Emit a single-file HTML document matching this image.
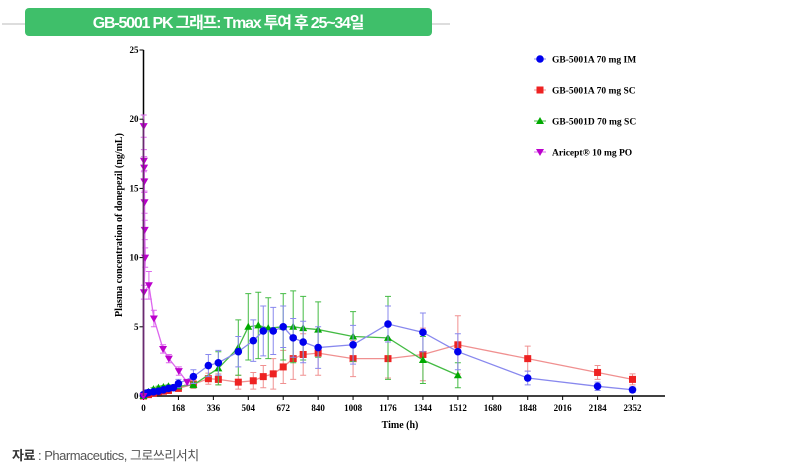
<!DOCTYPE html>
<html><head><meta charset="utf-8"><style>
html,body{margin:0;padding:0;background:#fff;width:800px;height:473px;overflow:hidden}
svg{display:block}
</style></head><body>
<svg id="s" width="800" height="473" xmlns="http://www.w3.org/2000/svg" font-family="Liberation Serif, serif">
<line x1="2" y1="24" x2="450" y2="24" stroke="#bbb" stroke-width="1"/>
<rect x="25" y="8" width="407" height="28" rx="4" fill="#3fbf6a"/>
<text x="228" y="28" text-anchor="middle" fill="#fff" font-family="Liberation Sans, Noto Sans CJK KR, sans-serif" font-size="16" font-weight="bold" letter-spacing="-1.2">GB-5001 PK 그래프: Tmax 투여 후 25~34일</text>
<text x="12" y="460" fill="#555" font-family="Liberation Sans, Noto Sans CJK KR, sans-serif" font-size="13" letter-spacing="-0.5"><tspan font-weight="bold" fill="#333">자료</tspan> : Pharmaceutics, 그로쓰리서치</text>
<g id="ax" font-weight="bold" font-size="9" fill="#000"></g>
<g id="pl"></g>
</svg>
<script>
var NS="http://www.w3.org/2000/svg";
function el(p,t,a,txt){var e=document.createElementNS(NS,t);for(var k in a)e.setAttribute(k,a[k]);if(txt!=null)e.textContent=txt;p.appendChild(e);return e;}
var X0=143.5,XS=489/2352,Y0=396,YS=13.84;
function X(t){return X0+t*XS}function Y(v){return Y0-v*YS}
var ax=document.getElementById('ax'),pl=document.getElementById('pl');
el(ax,'line',{x1:X0,y1:50,x2:X0,y2:Y0,stroke:'#000','stroke-width':1.5});
el(ax,'line',{x1:X0,y1:Y0,x2:665,y2:Y0,stroke:'#000','stroke-width':1.5});
for(var v=0;v<=25;v+=5){el(ax,'line',{x1:X0-4,y1:Y(v),x2:X0,y2:Y(v),stroke:'#000'});el(ax,'text',{x:X0-5,y:Y(v)+3,'text-anchor':'end'},v);}
for(var t=0;t<=2352;t+=168){el(ax,'line',{x1:X(t),y1:Y0,x2:X(t),y2:Y0+4,stroke:'#000'});el(ax,'text',{x:X(t),y:Y0+15,'text-anchor':'middle'},t);}
el(ax,'text',{x:400,y:428,'text-anchor':'middle','font-size':10},'Time (h)');
el(ax,'text',{x:122,y:225,'text-anchor':'middle','font-size':10,transform:'rotate(-90 122 225)'},'Plasma concentration of donepezil (ng/mL)');
var S=[
{c:'#0000ee',l:'#8888ee',m:'c',d:[[0,.1],[6,.15],[12,.2],[24,.25],[48,.3],[72,.35],[96,.45],[120,.55],[144,.6],[168,.9],[240,1.4],[312,2.2],[360,2.4],[456,3.2],[528,4.0],[576,4.7],[624,4.7],[672,5.0],[720,4.2],[768,3.9],[840,3.5],[1008,3.7],[1176,5.2],[1344,4.6],[1512,3.2],[1848,1.3],[2184,.7],[2352,.45]],e:[0,0,0,0,.1,.1,.1,.1,.1,.3,.5,.8,.9,1.1,1.5,1.8,1.7,1.5,1.4,1.5,1.5,1.4,1.3,1.4,1.3,.5,.3,.2]},
{c:'#ee2222',l:'#f09090',m:'s',d:[[0,0],[24,.1],[48,.2],[72,.3],[96,.35],[120,.4],[168,.55],[240,.85],[312,1.25],[360,1.2],[456,1.0],[528,1.1],[576,1.4],[624,1.6],[672,2.1],[720,2.7],[768,3.0],[840,3.1],[1008,2.7],[1176,2.7],[1344,3.0],[1512,3.7],[1848,2.7],[2184,1.7],[2352,1.2]],e:[0,0,0,.1,.1,.1,.2,.3,.4,.4,.5,.6,.8,1.1,1.2,1.5,1.5,1.6,1.3,1.4,1.9,2.1,.9,.5,.4]},
{c:'#00aa00',l:'#44bb44',m:'t',d:[[0,0],[24,.3],[48,.5],[72,.6],[96,.65],[120,.7],[168,.7],[240,.8],[360,2.0],[456,3.5],[504,5.0],[552,5.1],[600,4.9],[672,5.0],[720,5.0],[768,4.9],[840,4.8],[1008,4.3],[1176,4.2],[1344,2.6],[1512,1.5]],e:[0,.1,.1,.1,.1,.1,.1,.2,1.2,2,2.4,2.4,2.2,2.4,2.6,2.3,2,1.8,3,1.7,.9]},
{c:'#bb00cc',l:'#dd66ee',m:'v',d:[[0,0],[1,19.5],[2,17],[3,16.5],[4,15.5],[5,14],[6,12],[8,10],[2,7.5],[26,8],[50,5.6],[94,3.4],[122,2.7],[170,1.8],[210,1.0]],e:[0,.8,.8,.8,.8,.8,.7,.7,.5,1,.6,.3,.3,.3,.2]}
];
function mk(g,m,x,y,c){
 if(m=='c')el(g,'circle',{cx:x,cy:y,r:3.8,fill:c});
 else if(m=='s')el(g,'rect',{x:x-3.5,y:y-3.5,width:7,height:7,fill:c});
 else if(m=='t')el(g,'polygon',{points:(x)+','+(y-4)+' '+(x-4)+','+(y+3)+' '+(x+4)+','+(y+3),fill:c});
 else el(g,'polygon',{points:(x)+','+(y+4)+' '+(x-4)+','+(y-3)+' '+(x+4)+','+(y-3),fill:c});
}
[1,2,0,3].forEach(function(i){var s=S[i];var g=el(pl,'g',{});
 s.d.forEach(function(p,j){var e=s.e[j];if(e>0){var x=X(p[0]);el(g,'path',{d:'M'+x+' '+Y(p[1]-e)+'V'+Y(p[1]+e)+'M'+(x-3)+' '+Y(p[1]+e)+'h6M'+(x-3)+' '+Y(p[1]-e)+'h6',stroke:s.l,'stroke-width':1,fill:'none'});}});
 el(g,'polyline',{points:s.d.map(function(p){return X(p[0])+','+Y(p[1])}).join(' '),fill:'none',stroke:s.l,'stroke-width':1.3});
 s.d.forEach(function(p){mk(g,s.m,X(p[0]),Y(p[1]),s.c);});
});
el(pl,'line',{x1:X0,y1:Y(20),x2:X0,y2:Y0,stroke:'#6a2a70','stroke-width':1.5});
var L=['GB-5001A 70 mg IM','GB-5001A 70 mg SC','GB-5001D 70 mg SC','Aricept® 10 mg PO'];
L.forEach(function(t,i){var y=59+i*31;var s=S[i];el(pl,'line',{x1:534,y1:y,x2:546,y2:y,stroke:s.l});mk(pl,s.m,540,y,s.c);el(pl,'text',{x:552,y:y+3.5,'font-size':9.5,'font-weight':'bold'},t);});
</script>
</body></html>
